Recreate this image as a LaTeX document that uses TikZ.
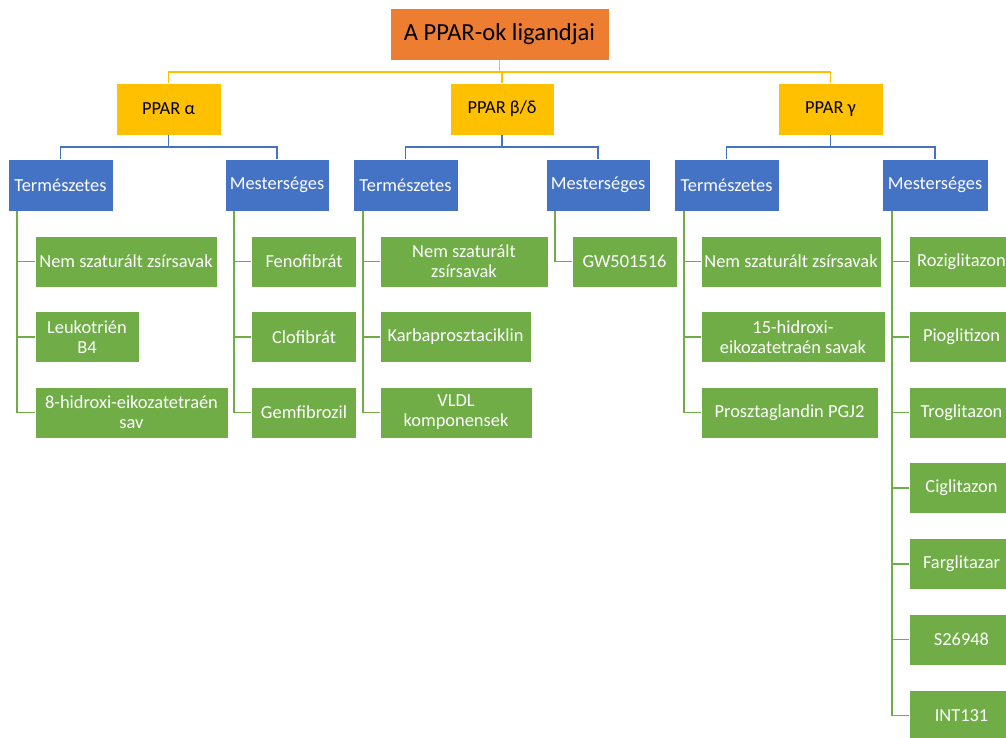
\documentclass[tikz,border=0pt]{standalone}
\usepackage{fontspec}
\setmainfont{Carlito}
\definecolor{orng}{HTML}{ED7D31}
\definecolor{yel}{HTML}{FFC000}
\definecolor{blu}{HTML}{4472C4}
\definecolor{grn}{HTML}{70AD47}
\begin{document}
\begin{tikzpicture}[x=0.75pt,y=-0.75pt,
  box/.style={draw=white, line width=0.4pt, inner sep=0pt, align=center,
    font=\fontsize{13.8}{15}\selectfont},
  rootbox/.style={box, fill=orng, text=black, minimum width=219*0.75pt, minimum height=52*0.75pt,
    font=\fontsize{18.4}{22}\selectfont},
  ybox/.style={box, fill=yel, text=black, minimum width=#1*0.75pt, minimum height=52*0.75pt},
  bbox/.style={box, fill=blu, text=white, minimum width=#1*0.75pt, minimum height=52*0.75pt},
  gbox/.style={box, fill=grn, text=white, minimum width=#1*0.75pt, minimum height=51*0.75pt},
  yline/.style={draw=yel, line width=1.4pt},
  bline/.style={draw=blu, line width=1.4pt},
  gline/.style={draw=grn, line width=1.4pt},
]
\useasboundingbox (0,0) rectangle (1006,738);
\clip (0,0) rectangle (1006,738);

% root
\node[rootbox] (root) at (499.5,34) {A PPAR-ok ligandjai};

% PPAR level
\node[ybox=105] (pa) at (168.5,109) {PPAR α};
\node[ybox=104] (pb) at (502,109) {PPAR β/δ};
\node[ybox=105] (pg) at (830.5,109) {PPAR γ};

% natural / synthetic
\node[bbox=105] (ta) at (60.5,185) {Természetes};
\node[bbox=104] (ma) at (277,185) {Mesterséges};
\node[bbox=105] (tb) at (405.5,185) {Természetes};
\node[bbox=104] (mb) at (598,185) {Mesterséges};
\node[bbox=105] (tg) at (726.5,185) {Természetes};
\node[bbox=106] (mg) at (935,185) {Mesterséges};

% alpha natural
\node[gbox=182] (ta1) at (126,261.5) {Nem szaturált zsírsavak};
\node[gbox=104] (ta2) at (87,337) {Leukotrién\\B4};
\node[gbox=193] (ta3) at (131.5,412.5) {8-hidroxi-eikozatetraén\\sav};
% alpha synthetic
\node[gbox=105] (ma1) at (304,261.5) {Fenofibrát};
\node[gbox=105] (ma2) at (304,337) {Clofibrát};
\node[gbox=105] (ma3) at (304,412.5) {Gemfibrozil};
% beta natural
\node[gbox=168] (tb1) at (464,261.5) {Nem szaturált\\zsírsavak};
\node[gbox=151] (tb2) at (455.5,337) {Karbaprosztaciklin};
\node[gbox=152] (tb3) at (456,412.5) {VLDL\\komponensek};
% beta synthetic
\node[gbox=105] (mb1) at (624.5,261.5) {GW501516};
% gamma natural
\node[gbox=180] (tg1) at (791,261.5) {Nem szaturált zsírsavak};
\node[gbox=184] (tg2) at (793,337) {15-hidroxi-\\eikozatetraén savak};
\node[gbox=177] (tg3) at (789.5,412.5) {Prosztaglandin PGJ2};
% gamma synthetic
\node[gbox=105] (mg1) at (961.5,261.5) {Roziglitazon};
\node[gbox=105] (mg2) at (961.5,337) {Pioglitizon};
\node[gbox=105] (mg3) at (961.5,412.5) {Troglitazon};
\node[gbox=105] (mg4) at (961.5,488) {Ciglitazon};
\node[gbox=105] (mg5) at (961.5,564) {Farglitazar};
\node[gbox=105] (mg6) at (961.5,639.5) {S26948};
\node[gbox=105] (mg7) at (961.5,715.5) {INT131};

% yellow connectors
\draw[yline] (root.south) -- ++(0,12) -| (pa.north);
\draw[yline] (root.south) -- ++(0,12) -| (pb.north);
\draw[yline] (root.south) -- ++(0,12) -| (pg.north);

% blue connectors
\foreach \p/\a/\b in {pa/ta/ma, pb/tb/mb, pg/tg/mg}{
  \draw[bline] (\p.south) -- ++(0,12) -| (\a.north);
  \draw[bline] (\p.south) -- ++(0,12) -| (\b.north);
}

% green connectors
\foreach \c in {ta1,ta2,ta3}{\draw[gline] ([xshift=7.2pt]ta.south west) |- (\c.west);}
\foreach \c in {ma1,ma2,ma3}{\draw[gline] ([xshift=7pt]ma.south west) |- (\c.west);}
\foreach \c in {tb1,tb2,tb3}{\draw[gline] ([xshift=7.5pt]tb.south west) |- (\c.west);}
\foreach \c in {mb1}{\draw[gline] ([xshift=7pt]mb.south west) |- (\c.west);}
\foreach \c in {tg1,tg2,tg3}{\draw[gline] ([xshift=7.5pt]tg.south west) |- (\c.west);}
\foreach \c in {mg1,mg2,mg3,mg4,mg5,mg6,mg7}{\draw[gline] ([xshift=8pt]mg.south west) |- (\c.west);}
\end{tikzpicture}
\end{document}
